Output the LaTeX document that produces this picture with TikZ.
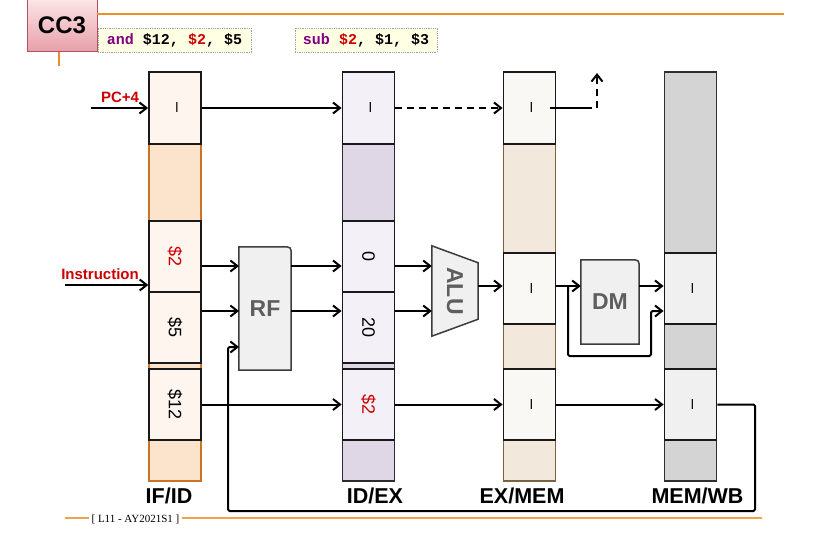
\documentclass[tikz,border=0pt]{standalone}
\usepackage{fontspec}
\setmainfont{Liberation Sans}
\newfontfamily\codefont{Liberation Mono}
\newfontfamily\footfont{Liberation Serif}
\usetikzlibrary{arrows.meta,backgrounds,calc}

\definecolor{accent}{HTML}{F08C28}
\definecolor{accentsoft}{HTML}{F2A24E}
\definecolor{cctop}{HTML}{FBE4E7}
\definecolor{ccbot}{HTML}{E8A0A9}
\definecolor{ccedge}{HTML}{B0505C}
\definecolor{codefill}{HTML}{FFFFE4}
\definecolor{codeedge}{HTML}{A0A0A0}
\definecolor{kwpurple}{HTML}{800080}
\definecolor{regred}{HTML}{CC0000}
\definecolor{iffill}{HTML}{FCE4CC}
\definecolor{ifedge}{HTML}{C87424}
\definecolor{ifbox}{HTML}{FEF5EE}
\definecolor{idfill}{HTML}{DFD6E6}
\definecolor{idedge}{HTML}{2E2A33}
\definecolor{idbox}{HTML}{F3F1F7}
\definecolor{exfill}{HTML}{F2E9DC}
\definecolor{exedge}{HTML}{7A6242}
\definecolor{exbox}{HTML}{F9F8F5}
\definecolor{wbfill}{HTML}{D4D4D4}
\definecolor{wbedge}{HTML}{2E2E2E}
\definecolor{wbbox}{HTML}{F0F0F0}
\definecolor{unitfill}{HTML}{F0F0F0}
\definecolor{unitedge}{HTML}{3C3C3C}
\definecolor{unittext}{HTML}{5E5E5E}

% text turned a quarter clockwise, as in the register slots
\newcommand\vtext[1]{\rotatebox{-90}{#1}}

\begin{document}
\begin{tikzpicture}[x=1pt,y=-1pt,
  wire/.style={line width=2pt, black},
  arr/.style={wire, -{Straight Barb[length=7pt,width=11pt,line width=2pt]}},
  dashwire/.style={dash pattern=on 7pt off 5pt},
  regcol/.style={line width=1.4pt, minimum width=52pt, minimum height=409pt, inner sep=0pt},
  regbox/.style={draw=black!90, line width=1.8pt, minimum width=52pt, minimum height=71pt,
    inner sep=0pt, font=\fontsize{18}{18}\selectfont},
  unit/.style={fill=unitfill, draw=unitedge, line width=1.5pt},
  unitlabel/.style={inner sep=0pt, text=unittext, font=\bfseries\fontsize{23}{23}\selectfont},
  stage/.style={font=\bfseries\fontsize{21.5}{21.5}\selectfont, inner sep=0pt},
  sig/.style={text=regred, font=\bfseries\fontsize{15}{15}\selectfont, inner sep=0pt},
  codebox/.style={fill=codefill, draw=codeedge, densely dotted, line width=0.8pt,
    minimum height=24pt, inner sep=0pt, font=\codefont\bfseries\fontsize{15}{15}\selectfont},
]
\useasboundingbox (0,0) rectangle (824,546);

% ---- header ----
\coordinate (hdrend) at (784,14);
\coordinate (tick) at (59,66);
\node[draw=ccedge, line width=0.8pt, top color=cctop, bottom color=ccbot,
  minimum width=70pt, minimum height=52pt, inner sep=0pt,
  font=\bfseries\fontsize{24}{24}\selectfont] (cc) at (62,25.5) {CC3};
\draw[accent, line width=1.5pt] (hdrend -| cc.east) -- (hdrend);
\draw[accent, line width=1.5pt] (tick |- cc.south) -- (tick);

\node[codebox, minimum width=153pt] (code1) at (174.5,40)
  {\textcolor{kwpurple}{and} \$12, \textcolor{regred}{\$2}, \$5};
\node[codebox, minimum width=142pt] (code2) at (366,40)
  {\textcolor{kwpurple}{sub} \textcolor{regred}{\$2}, \$1, \$3};

% ---- pipeline registers ----
\node[regcol, draw=ifedge, fill=iffill] (ifid) at (175,276.5) {};
\node[regbox, fill=ifbox, minimum height=72pt] (ifpc) at (175,108) {\vtext{--}};
\node[regbox, fill=ifbox] (ifrs) at (175,256.5) {\vtext{\textcolor{regred}{\$2}}};
\node[regbox, fill=ifbox] (ifrt) at (175,327.5) {\vtext{\$5}};
\node[regbox, fill=ifbox] (ifrd) at (175,404.5) {\vtext{\$12}};

\node[regcol, draw=idedge, fill=idfill] (idex) at (368.5,276.5) {};
\node[regbox, fill=idbox, minimum height=72pt] (idpc) at (368.5,108) {\vtext{--}};
\node[regbox, fill=idbox] (idrs) at (368.5,256.5) {\vtext{0}};
\node[regbox, fill=idbox] (idrt) at (368.5,327.5) {\vtext{20}};
\node[regbox, fill=idbox] (idrd) at (368.5,404.5) {\vtext{\textcolor{regred}{\$2}}};

\node[regcol, draw=exedge, fill=exfill] (exmem) at (529.5,276.5) {};
\node[regbox, fill=exbox, minimum height=72pt] (expc) at (529.5,108) {\vtext{--}};
\node[regbox, fill=exbox] (exalu) at (529.5,288.5) {\vtext{--}};
\node[regbox, fill=exbox] (exrd) at (529.5,404.5) {\vtext{--}};

\node[regcol, draw=wbedge, fill=wbfill] (memwb) at (690.5,276.5) {};
\node[regbox, fill=wbbox] (mwmem) at (690.5,288.5) {\vtext{--}};
\node[regbox, fill=wbbox] (mwrd) at (690.5,404.5) {\vtext{--}};

\node[stage] (lifid) at (169,496) {IF/ID};
\node[stage] (lidex) at (375,496) {ID/EX};
\node[stage] (lexmem) at (522,496) {EX/MEM};
\node[stage] (lmemwb) at (697.5,496) {MEM/WB};

% ---- functional units ----
\node[unitlabel, minimum width=52pt, minimum height=123pt] (rf) at (265,308.5) {RF};
\node[unitlabel, minimum width=58pt, minimum height=84pt] (dm) at (610,302) {DM};
\node[unitlabel, minimum width=46pt, minimum height=90pt] (alu) at (455,291) {\vtext{ALU}};
\begin{scope}[on background layer]
  \filldraw[unit] (rf.south west) -- (rf.north west) -- ([xshift=-9pt]rf.north east)
    .. controls (rf.north east) .. ([yshift=-9pt]rf.north east) -- (rf.south east) -- cycle;
  \filldraw[unit] (dm.south west) -- (dm.north west) -- ([xshift=-9pt]dm.north east)
    .. controls (dm.north east) .. ([yshift=-9pt]dm.north east) -- (dm.south east) -- cycle;
  \filldraw[unit] (alu.north west) -- ([yshift=-17pt]alu.north east)
    -- ([yshift=17pt]alu.south east) -- (alu.south west) -- cycle;
\end{scope}

% ---- signal inputs ----
\coordinate (pcin) at (91,108);
\coordinate (insin) at (65,285);
\node[sig] (pclab) at (120,97) {PC+4};
\node[sig] (inslab) at (100,274) {Instruction};
\draw[arr] (pcin) -- (ifpc.west);
\draw[arr] (insin) -- (insin -| ifid.west);

% ---- PC+4 path ----
\coordinate (pcup) at (597,73);
\draw[arr] (ifpc.east) -- (idpc.west);
\draw[arr, dashwire] (idpc.east) -- (expc.west);
\draw[wire] ([xshift=-6pt]expc.east) -- ([xshift=-5pt]expc.east -| pcup);
\draw[arr, dashwire] (expc.east -| pcup) -- (pcup);

% ---- register read and execute ----
\coordinate (rfa) at (239,266);
\coordinate (rfb) at (239,311);
\coordinate (rfc) at (239,347);
\draw[arr] (rfa -| ifrs.east) -- (rfa);
\draw[arr] (rfb -| ifrt.east) -- (rfb);
\draw[arr] (rfa -| rf.east) -- (rfa -| idrs.west);
\draw[arr] (rfb -| rf.east) -- (rfb -| idrt.west);
\draw[arr] (rfa -| idrs.east) -- (rfa -| alu.west);
\draw[arr] (rfb -| idrt.east) -- (rfb -| alu.west);

\coordinate (aluo) at (478,286);
\draw[arr] (aluo) -- (aluo -| exalu.west);
\draw[arr] (aluo -| exalu.east) -- (aluo -| dm.west);
\draw[arr] (aluo -| dm.east) -- (aluo -| mwmem.west);

% ALU result bypassing data memory
\coordinate (byp) at (568,356);
\coordinate (bypin) at (651,311);
\draw[arr, rounded corners=1.5pt] (aluo -| byp) -- (byp) -- (byp -| bypin) -- (bypin) -- (bypin -| mwmem.west);

% ---- destination register and write back ----
\draw[arr] (ifrd.east) -- (idrd.west);
\draw[arr] (idrd.east) -- (exrd.west);
\draw[arr] (exrd.east) -- (mwrd.west);
\coordinate (wbr) at (755,511);
\coordinate (wbl) at (228,511);
\draw[arr, rounded corners=1.5pt] (mwrd.east) -- (mwrd.east -| wbr) -- (wbr) -- (wbl) -- (wbl |- rfc) -- (rfc);

% ---- footer ----
\coordinate (fl) at (65,518);
\coordinate (fr) at (762,518);
\node[inner sep=0pt, font=\footfont\fontsize{11}{11}\selectfont] (foot) at (135.5,519) {[ L11 - AY2021S1 ]};
\draw[accentsoft, line width=1.5pt] (fl) -- ([xshift=-2pt]fl -| foot.west);
\draw[accentsoft, line width=1.5pt] ([xshift=2pt]foot.east |- fr) -- (fr);
\end{tikzpicture}
\end{document}
